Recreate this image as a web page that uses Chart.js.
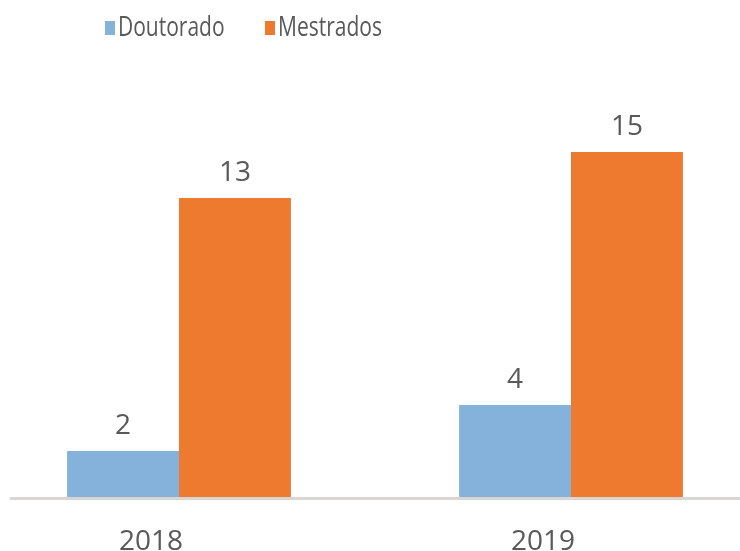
<!DOCTYPE html>
<html>
<head>
<meta charset="utf-8">
<script src="https://cdn.jsdelivr.net/npm/chart.js@4/dist/chart.umd.min.js"></script>
<style>
  html, body { margin: 0; padding: 0; background: #fff; overflow: hidden; }
  body { width: 740px; height: 551px; position: relative; }
  #wrap { position: absolute; left: -17px; top: 0; width: 784px; height: 551px; }
  #legend { position: absolute; left: 0; top: 0; width: 740px; height: 60px;
    font-family: "Open Sans", sans-serif; font-size: 28px; color: #595959; }
  .item { position: absolute; top: 8px; line-height: 34px; white-space: nowrap; }
  .box { position: absolute; left: 0; top: 13px; width: 10px; height: 14px; }
  .txt { position: absolute; left: 13px; top: 0; transform: scaleX(0.75); transform-origin: left center; }
</style>
</head>
<body>
<div id="wrap"><canvas id="chart"></canvas></div>
<div id="legend"></div>
<script>
const years = ["2018", "2019"];
const doutorado = [2, 4];
const mestrados = [13, 15];

const seriesNames = ["Doutorado", "Mestrados"];
const seriesColors = ["#85b2da", "#ee7a2f"];
const legendLeft = [105, 265];

const textColor = "#595959";
const numFont = "'Open Sans', sans-serif";

// legend as plain html so it can sit left of centre like the original
const legendEl = document.getElementById("legend");
legendEl.innerHTML = seriesNames.map((name, i) =>
  `<span class="item" style="left:${legendLeft[i]}px"><span class="box" style="background:${seriesColors[i]}"></span><span class="txt">${name}</span></span>`
).join("");

const valueLabels = {
  id: "valueLabels",
  afterDatasetsDraw(chart) {
    const ctx = chart.ctx;
    ctx.save();
    ctx.fillStyle = textColor;
    ctx.font = `28px ${numFont}`;
    ctx.textAlign = "center";
    ctx.textBaseline = "alphabetic";
    chart.data.datasets.forEach((ds, i) => {
      chart.getDatasetMeta(i).data.forEach((bar, j) => {
        ctx.fillText(String(ds.data[j]), bar.x, bar.y - 17);
      });
    });
    ctx.restore();
  }
};

// grey base line, starts a little in from the left edge
const baseLine = {
  id: "baseLine",
  beforeDatasetsDraw(chart) {
    const ctx = chart.ctx;
    const y = chart.chartArea.bottom + 1.5;
    ctx.save();
    ctx.strokeStyle = "#d9d5d5";
    ctx.lineWidth = 3;
    ctx.beginPath();
    ctx.moveTo(27, y);
    ctx.lineTo(chart.width, y);
    ctx.stroke();
    ctx.restore();
  }
};

new Chart(document.getElementById("chart"), {
  type: "bar",
  data: {
    labels: years,
    datasets: [
      { label: seriesNames[0], data: doutorado, backgroundColor: seriesColors[0] },
      { label: seriesNames[1], data: mestrados, backgroundColor: seriesColors[1] }
    ]
  },
  options: {
    responsive: true,
    maintainAspectRatio: false,
    animation: false,
    layout: { padding: { top: 129, left: 0, right: 0, bottom: 0 } },
    datasets: { bar: { categoryPercentage: 0.571, barPercentage: 1 } },
    plugins: {
      legend: { display: false },
      tooltip: { enabled: false }
    },
    scales: {
      x: {
        grid: { display: false },
        border: { display: false },
        ticks: { color: textColor, font: { family: numFont, size: 28 }, padding: 20, labelOffset: -28 },
        afterFit: (scale) => { scale.height = 54; }
      },
      y: {
        display: false,
        min: 0,
        max: 16
      }
    }
  },
  plugins: [valueLabels, baseLine]
});
</script>
</body>
</html>
